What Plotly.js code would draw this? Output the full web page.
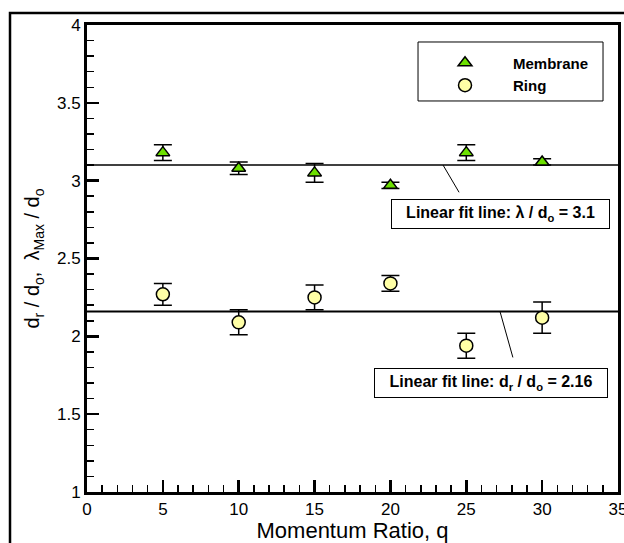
<!DOCTYPE html>
<html>
<head>
<meta charset="utf-8">
<script src="https://cdn.plot.ly/plotly-3.0.1.min.js"></script>
<style>html,body{margin:0;padding:0;background:#fff;}#chart{width:624px;height:543px;}</style>
</head>
<body>
<div id="chart"></div>
<script>
// ---- data ----
var q = [5, 10, 15, 20, 25, 30];
var membrane = [3.18, 3.08, 3.05, 2.97, 3.18, 3.12];
var membraneErr = [0.05, 0.04, 0.06, 0.02, 0.05, 0.02];
var ring = [2.27, 2.09, 2.25, 2.34, 1.94, 2.12];
var ringErr = [0.07, 0.08, 0.08, 0.05, 0.08, 0.10];
var fitRange = [0, 35];
var fitLambda = 3.1;
var fitRing = 2.16;
var xTickVals = [0, 5, 10, 15, 20, 25, 30, 35];
var yTickVals = [1, 1.5, 2, 2.5, 3, 3.5, 4];

var FONT = 'Liberation Sans, Arial, sans-serif';

var traces = [
  {
    x: fitRange, y: fitRange.map(function(){return fitLambda;}),
    mode: 'lines', line: {color: '#000', width: 1.5}, showlegend: false, hoverinfo: 'skip'
  },
  {
    x: fitRange, y: fitRange.map(function(){return fitRing;}),
    mode: 'lines', line: {color: '#000', width: 2}, showlegend: false, hoverinfo: 'skip'
  },
  {
    x: q, y: membrane, name: 'Membrane', mode: 'markers',
    error_y: {type: 'data', array: membraneErr, visible: true, color: '#000', thickness: 1.5, width: 9},
    marker: {symbol: 'triangle-up', size: 12, color: '#6ce000', line: {color: '#000', width: 1.5}}
  },
  {
    x: q, y: ring, name: 'Ring', mode: 'markers',
    error_y: {type: 'data', array: ringErr, visible: true, color: '#000', thickness: 1.5, width: 9},
    marker: {symbol: 'circle', size: 13, color: '#ffffa6', line: {color: '#000', width: 1.5}}
  }
];

var layout = {
  width: 624, height: 543,
  margin: {l: 87, r: 6, t: 25, b: 51},
  paper_bgcolor: '#fff', plot_bgcolor: '#fff',
  font: {family: FONT, color: '#000', size: 17},
  showlegend: true,
  legend: {
    x: 0.6215, y: 0.954, xanchor: 'left', yanchor: 'top',
    borderwidth: 0, bgcolor: 'rgba(0,0,0,0)',
    font: {family: FONT, size: 15, weight: 'bold', color: '#000'},
    itemwidth: 86, tracegroupgap: 0
  },
  xaxis: {
    range: [0, 35], tickvals: xTickVals, ticks: 'inside', ticklen: 12, tickwidth: 2.5, tickcolor: '#000',
    minor: {dtick: 1, ticks: 'inside', ticklen: 7, tickwidth: 1.5, tickcolor: '#000'},
    showline: true, linewidth: 3, linecolor: '#000', mirror: true,
    showgrid: false, zeroline: false, ticklabeloverflow: 'allow',
    tickfont: {size: 17, family: FONT},
    title: {text: 'Momentum Ratio, q', font: {size: 22, family: FONT}, standoff: 8}
  },
  yaxis: {
    range: [1, 4], tickvals: yTickVals, ticks: 'inside', ticklen: 12, tickwidth: 2.5, tickcolor: '#000',
    minor: {dtick: 0.1, ticks: 'inside', ticklen: 7, tickwidth: 1.5, tickcolor: '#000'},
    showline: true, linewidth: 3, linecolor: '#000', mirror: true,
    showgrid: false, zeroline: false,
    tickfont: {size: 17, family: FONT},
    title: {text: 'd<sub>r</sub> / d<sub>o</sub>,  \u03bb<sub>Max</sub> / d<sub>o</sub>', font: {size: 20, family: FONT}, standoff: 12}
  },
  shapes: [
    {type: 'rect', xref: 'paper', yref: 'paper', x0: -0.145, x1: 1.05, y0: -0.15, y1: 1.0257,
     line: {color: '#000', width: 2.5}, fillcolor: 'rgba(0,0,0,0)', layer: 'below'},
    {type: 'rect', xref: 'paper', yref: 'paper', x0: 0.6234, x1: 0.9718, y0: 0.8373, y1: 0.9636,
     line: {color: '#000', width: 1}, fillcolor: '#fff', layer: 'above'}
  ],
  annotations: [
    {x: 27.26, y: 2.786, xref: 'x', yref: 'y', showarrow: false,
     text: 'Linear fit line: \u03bb / d<sub>o</sub> = 3.1',
     font: {size: 16, family: FONT, weight: 'bold', color: '#000'},
     width: 215, height: 26, align: 'center',
     bordercolor: '#000', borderwidth: 1, borderpad: 1, bgcolor: '#fff'},
    {x: 26.63, y: 1.701, xref: 'x', yref: 'y', showarrow: false,
     text: 'Linear fit line: d<sub>r</sub> / d<sub>o</sub> = 2.16',
     font: {size: 16, family: FONT, weight: 'bold', color: '#000'},
     width: 230, height: 26, align: 'center',
     bordercolor: '#000', borderwidth: 1, borderpad: 1, bgcolor: '#fff'},
    {x: 23.47, y: fitLambda, xref: 'x', yref: 'y', text: ' ', showarrow: true,
     arrowhead: 0, arrowwidth: 1, arrowcolor: '#000', ax: 20, ay: 34, standoff: 0, startstandoff: 0},
    {x: 27.22, y: fitRing, xref: 'x', yref: 'y', text: ' ', showarrow: true,
     arrowhead: 0, arrowwidth: 1, arrowcolor: '#000', ax: 16, ay: 57, standoff: 0, startstandoff: 0}
  ]
};

Plotly.newPlot('chart', traces, layout, {displayModeBar: false, staticPlot: true});
</script>
</body>
</html>
